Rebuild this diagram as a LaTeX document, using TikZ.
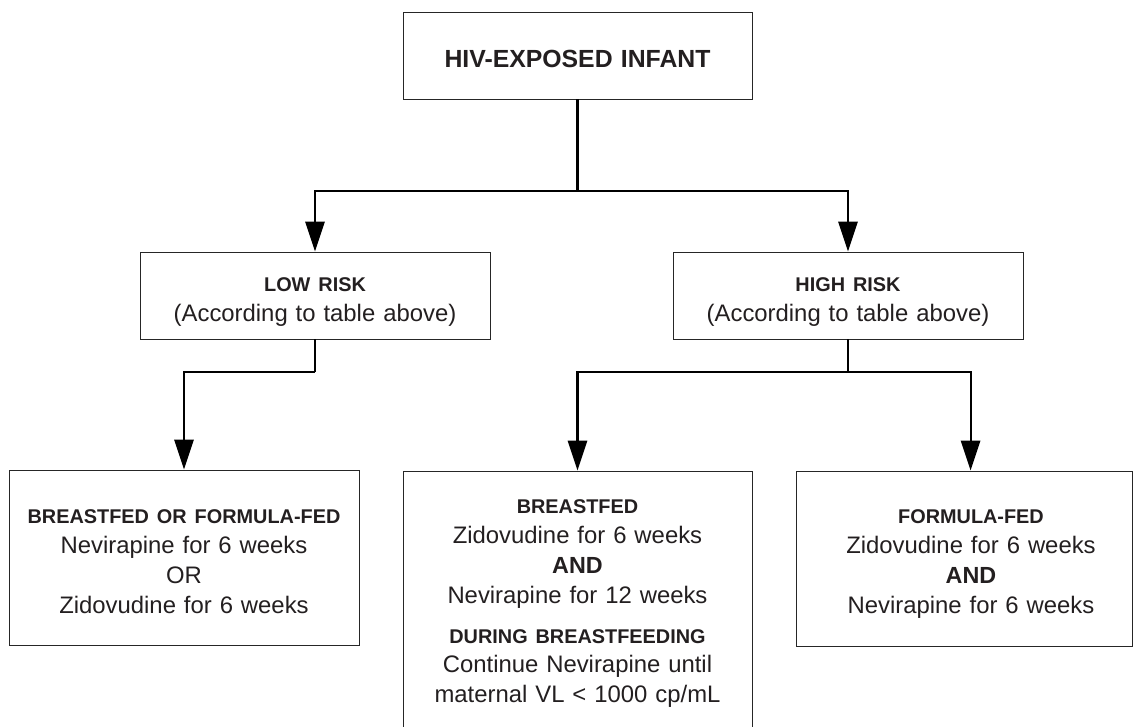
\documentclass[tikz,border=0pt]{standalone}
\usepackage{fontspec}
\setmainfont{Liberation Sans}
\usetikzlibrary{arrows.meta}
\definecolor{ink}{HTML}{231F20}
\newcommand\hdA{\fontsize{14.9pt}{22.5pt}\selectfont\bfseries}
\newcommand\bodyA{\fontsize{17.9pt}{22.5pt}\selectfont}
\newcommand\andA{{\fontsize{17.5pt}{22.5pt}\selectfont\bfseries AND}}
\tikzset{
  box/.style={draw=black!85, line width=0.65pt, rectangle, inner sep=0pt},
  txt/.style={text=ink, font=\bodyA, align=center, text width=255pt, inner sep=0pt, anchor=base},
  conn/.style={line width=1.6pt, black},
  arr/.style={conn, -{Triangle[length=22.5pt,width=14.5pt]}}
}
\begin{document}
\begin{tikzpicture}[x=0.75pt,y=-0.75pt]
\useasboundingbox (0,0) rectangle (1133,727);
\clip (0,0) rectangle (1133,727);
% boxes
\node[box, minimum width=261.75pt, minimum height=65.25pt] (top) at (577.5,55.5) {};
\node[box, minimum width=262.5pt, minimum height=65.25pt] (low) at (315,295.5) {};
\node[box, minimum width=262.5pt, minimum height=65.25pt] (high) at (848,295.5) {};
\node[box, minimum width=262.5pt, minimum height=131.25pt] (bl) at (184,557.5) {};
\node[box, minimum width=261.75pt, minimum height=193.5pt] (bm) at (577.5,600) {};
\node[box, minimum width=252pt, minimum height=131.25pt] (br) at (964,558.5) {};
% texts
\node[txt, font=\fontsize{18.6pt}{22.5pt}\selectfont\bfseries] (topt) at (577.5,68) {HIV-EXPOSED INFANT};
\node[txt] (lowt) at (315,292) {{\hdA LOW RISK}\\(According to table above)};
\node[txt] (hight) at (848,292) {{\hdA HIGH RISK}\\(According to table above)};
\node[txt] (blt) at (184,523) {{\hdA BREASTFED OR FORMULA-FED}\\Nevirapine for 6 weeks\\OR\\Zidovudine for 6 weeks};
\node[txt] (bmt) at (577.5,513) {{\hdA BREASTFED}\\Zidovudine for 6 weeks\\\andA\\Nevirapine for 12 weeks\\[7.5pt]{\hdA DURING BREASTFEEDING}\\Continue Nevirapine until\\maternal VL < 1000 cp/mL};
\node[txt] (brt) at (971,523) {{\hdA FORMULA-FED}\\Zidovudine for 6 weeks\\\andA\\Nevirapine for 6 weeks};
% junctions
\coordinate (j1) at (577.5,191);
\coordinate (j2) at (315,372);
\coordinate (j3) at (848,372);
\coordinate (brtop) at ([xshift=131.25pt]br.north west);
% connectors
\draw[conn] (top.south) -- (j1);
\draw[arr] (j1) -| (low.north);
\draw[arr] (j1) -| (high.north);
\draw[conn] (low.south) -- (j2);
\draw[arr] (j2) -| (bl.north);
\draw[conn] (high.south) -- (j3);
\draw[arr] (j3) -| (bm.north);
\draw[arr] (j3) -| (brtop);
\end{tikzpicture}
\end{document}
